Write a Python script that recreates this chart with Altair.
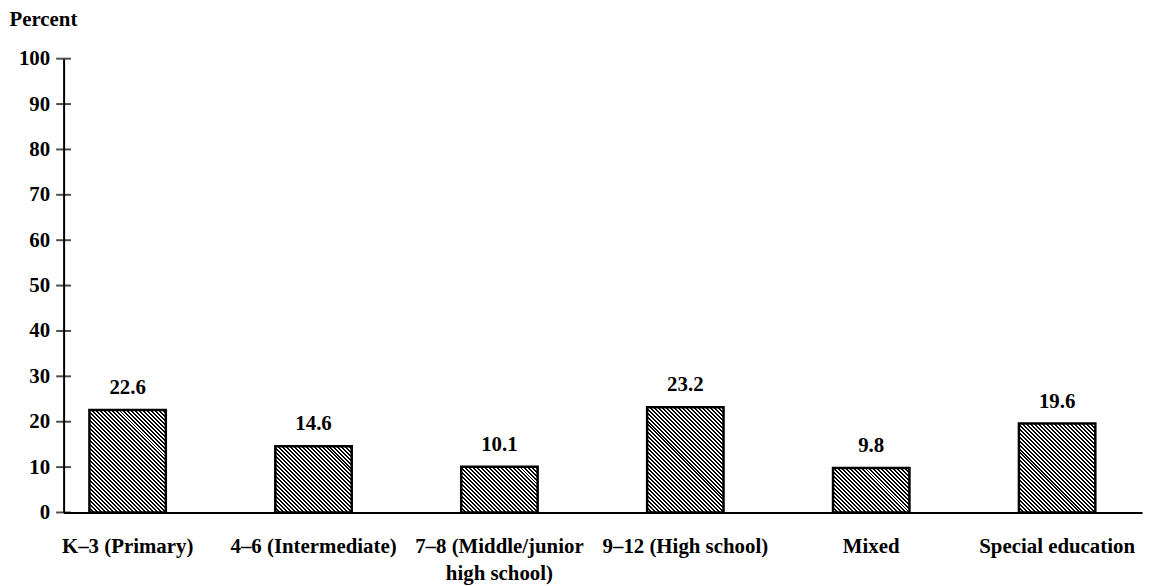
import altair as alt
import pandas as pd

categories = [
    "K–3 (Primary)",
    "4–6 (Intermediate)",
    "7–8 (Middle/junior high school)",
    "9–12 (High school)",
    "Mixed",
    "Special education",
]
values = [22.6, 14.6, 10.1, 23.2, 9.8, 19.6]
y_ticks = [0, 10, 20, 30, 40, 50, 60, 70, 80, 90, 100]

df = pd.DataFrame({"cat": categories, "val": values})
ticks_df = pd.DataFrame({"t": y_ticks})

FONT = "Liberation Serif"
FS = 21
W, H = 1086, 457
PI, PO, ALIGN = 0.589, 0.195, 0.356
step = W / (len(categories) - PI + 2 * PO)
bw = step * (1 - PI)
HPERIOD = 4.0   # horizontal period of the hatch, in pixels
BLACK = 0.5


def hatch(v):
    """Diagonal ('\\') hatching as a hard-stop linear gradient in bbox units."""
    h = v / 100 * H
    w = bw
    a = (w + h) / (w * w + h * h)
    per = HPERIOD / (w + h)
    stops = []
    k = 0
    while k * per < 1:
        t0 = k * per
        tm = min(1.0, (k + BLACK) * per)
        t1 = min(1.0, (k + 1) * per)
        stops += [
            {"offset": t0, "color": "#000000"},
            {"offset": tm, "color": "#000000"},
        ]
        if tm < 1:
            stops += [
                {"offset": tm, "color": "#ffffff"},
                {"offset": t1, "color": "#ffffff"},
            ]
        k += 1
    return {
        "gradient": "linear",
        "x1": 0, "y1": 1,
        "x2": a * w, "y2": 1 - a * h,
        "stops": stops,
    }


label_expr = (
    "datum.value == '7–8 (Middle/junior high school)' ? "
    "['7–8 (Middle/junior', 'high school)'] : datum.label"
)

x_scale = alt.Scale(domain=categories, paddingInner=PI, paddingOuter=PO,
                    align=ALIGN, round=False)
y_scale = alt.Scale(domain=[0, 100], nice=False, round=False)

x_enc = alt.X(
    "cat:N",
    sort=categories,
    scale=x_scale,
    axis=alt.Axis(
        title=None, labelAngle=0, ticks=False, tickSize=0, labelPadding=23,
        labelFont=FONT, labelFontSize=FS, labelFontWeight="bold",
        labelColor="black", domainColor="black", domainWidth=2,
        labelExpr=label_expr, labelLineHeight=28, labelBaseline="top",
    ),
)

y_axis = alt.Axis(
    values=y_ticks, grid=False, ticks=False, tickSize=0,
    domainColor="black", domainWidth=2, labelPadding=14,
    labelFont=FONT, labelFontSize=FS, labelFontWeight="bold", labelColor="black",
    title="Percent", titleAngle=0, titleAlign="left", titleBaseline="alphabetic",
    titleX=-55, titleY=-33, titleFont=FONT, titleFontSize=FS,
    titleFontWeight="bold", titleColor="black",
)

y_enc = alt.Y("val:Q", scale=y_scale, axis=y_axis)

base = alt.Chart(df)
bars = [
    base.transform_filter(alt.datum.cat == c)
    .mark_bar(fill=hatch(v), stroke="black", strokeWidth=2.5)
    .encode(x=x_enc, y=y_enc)
    for c, v in zip(categories, values)
]

labels = base.mark_text(
    dy=-16, baseline="alphabetic", font=FONT, fontSize=FS, fontWeight="bold",
    color="black",
).encode(x=x_enc, y=y_enc, text=alt.Text("val:Q", format=".1f"))

# axis ticks that cross the y-axis line
tick_marks = alt.Chart(ticks_df).mark_tick(
    color="black", thickness=2, size=15, orient="horizontal"
).encode(
    y=alt.Y("t:Q", scale=y_scale, axis=y_axis),
    x=alt.value(0),
)

chart = (
    alt.layer(*bars, labels, tick_marks)
    .properties(
        width=W, height=H,
        autosize=alt.AutoSizeParams(type="none"),
        padding={"left": 56, "top": 49, "right": 4, "bottom": 72},
        background="white",
    )
    .configure_view(stroke=None)
)

chart.save("out.html", embed_options={"renderer": "svg", "actions": False})
